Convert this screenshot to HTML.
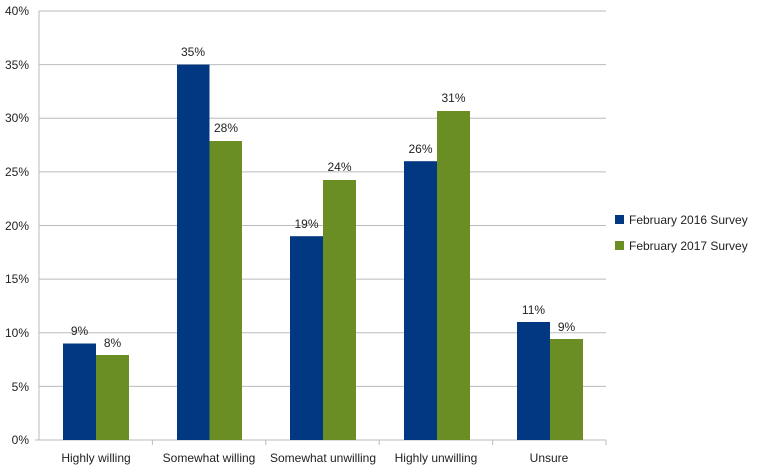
<!DOCTYPE html>
<html><head><style>body{margin:0;background:#fff}</style></head><body>
<svg width="760" height="469" xmlns="http://www.w3.org/2000/svg" font-family="Liberation Sans, sans-serif" font-size="12" fill="#222">
<g stroke="#bbb" stroke-width="1">
<line x1="39" y1="11" x2="606" y2="11"/><line x1="39" y1="64.6" x2="606" y2="64.6"/><line x1="39" y1="118.3" x2="606" y2="118.3"/><line x1="39" y1="171.9" x2="606" y2="171.9"/><line x1="39" y1="225.5" x2="606" y2="225.5"/><line x1="39" y1="279.1" x2="606" y2="279.1"/><line x1="39" y1="332.8" x2="606" y2="332.8"/><line x1="39" y1="386.4" x2="606" y2="386.4"/><line x1="35" y1="440" x2="606" y2="440"/>
<line x1="39" y1="11" x2="39" y2="440"/>
<line x1="152.4" y1="440" x2="152.4" y2="445"/><line x1="265.8" y1="440" x2="265.8" y2="445"/><line x1="379.2" y1="440" x2="379.2" y2="445"/><line x1="492.6" y1="440" x2="492.6" y2="445"/><line x1="606" y1="440" x2="606" y2="445"/>
</g>
<g text-anchor="end">
<text x="29" y="15">40%</text><text x="29" y="69">35%</text><text x="29" y="122">30%</text><text x="29" y="176">25%</text><text x="29" y="230">20%</text><text x="29" y="283">15%</text><text x="29" y="337">10%</text><text x="29" y="391">5%</text><text x="29" y="444">0%</text>
</g>
<g fill="#023781">
<rect x="63" y="343.5" width="33" height="96.5"/>
<rect x="177" y="64.6" width="32.5" height="375.4"/>
<rect x="290" y="236.2" width="33" height="203.8"/>
<rect x="404" y="161.2" width="33" height="278.8"/>
<rect x="517" y="322" width="33" height="118"/>
</g>
<g fill="#6a8e23">
<rect x="96" y="355" width="33" height="85"/>
<rect x="209.5" y="141" width="32.5" height="299"/>
<rect x="323" y="180" width="33" height="260"/>
<rect x="437" y="111" width="33" height="329"/>
<rect x="550" y="339" width="33" height="101"/>
</g>
<g text-anchor="middle">
<text x="79.5" y="335">9%</text><text x="112.5" y="347">8%</text>
<text x="193" y="56">35%</text><text x="226" y="132">28%</text>
<text x="306.5" y="228">19%</text><text x="339.5" y="171">24%</text>
<text x="420.5" y="153">26%</text><text x="453.5" y="102">31%</text>
<text x="533.5" y="314">11%</text><text x="566.5" y="331">9%</text>
<text x="96" y="462">Highly willing</text><text x="209" y="462">Somewhat willing</text><text x="323" y="462">Somewhat unwilling</text><text x="436" y="462">Highly unwilling</text><text x="549" y="462">Unsure</text>
</g>
<rect x="615" y="215" width="9" height="9" fill="#023781"/>
<rect x="615" y="241" width="9" height="9" fill="#6a8e23"/>
<text x="629" y="224">February 2016 Survey</text>
<text x="629" y="250">February 2017 Survey</text>
</svg>
</body></html>
